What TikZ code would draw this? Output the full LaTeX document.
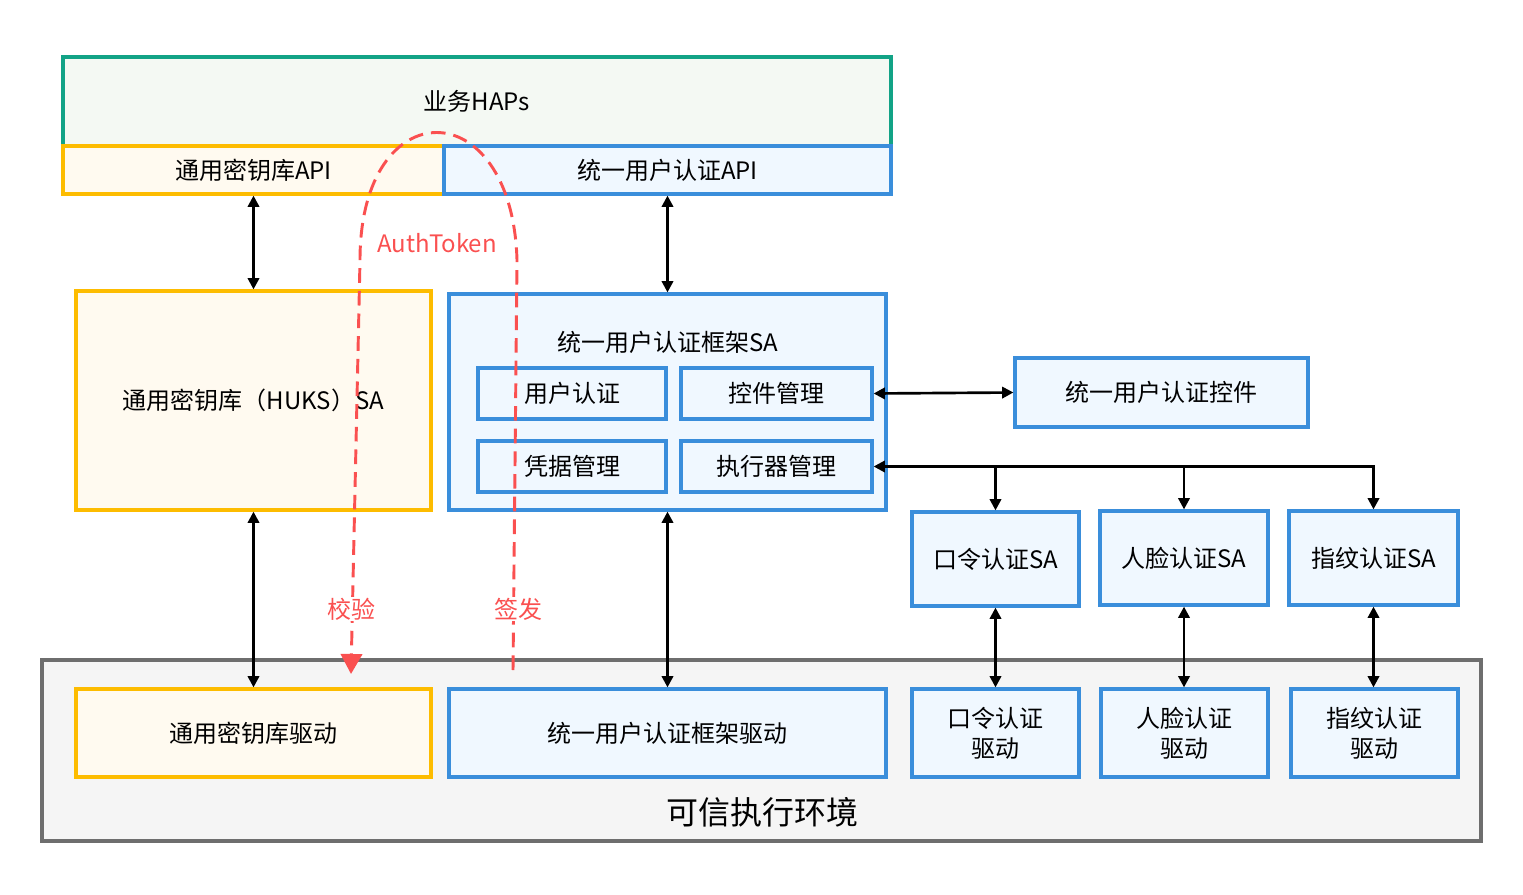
\documentclass[tikz,border=0pt]{standalone}
\usepackage{fontspec}
\setmainfont{Noto Sans CJK SC}
\usetikzlibrary{arrows.meta}
\definecolor{hapgreen}{HTML}{12A386}
\definecolor{hapfill}{HTML}{F4F9F3}
\definecolor{keyorange}{HTML}{FDBC00}
\definecolor{keyfill}{HTML}{FFFAF0}
\definecolor{authblue}{HTML}{3A8EDB}
\definecolor{authfill}{HTML}{F0F8FF}
\definecolor{teegray}{HTML}{6E6E6E}
\definecolor{teefill}{HTML}{F5F5F5}
\definecolor{tokenred}{HTML}{FA5050}
\tikzset{
	box/.style={draw, line width=2.4pt, inner sep=0pt, align=center},
	size/.style 2 args={minimum width=#1*0.75pt, minimum height=#2*0.75pt},
	hapbox/.style={box, draw=hapgreen, fill=hapfill},
	keybox/.style={box, draw=keyorange, fill=keyfill},
	authbox/.style={box, draw=authblue, fill=authfill},
	teebox/.style={box, draw=teegray, fill=teefill},
	link/.style={line width=2pt, {Triangle[length=8.5pt,width=8.5pt]}-{Triangle[length=8.5pt,width=8.5pt]}},
	tolink/.style={line width=2pt, -{Triangle[length=8.5pt,width=8.5pt]}},
	token/.style={draw=tokenred, line width=2.2pt, dash pattern=on 11pt off 6pt},
	tokentext/.style={text=tokenred, inner sep=1pt},
}

\begin{document}
\begin{tikzpicture}[x=0.75pt, y=-0.75pt, font=\fontsize{18pt}{22.5pt}\selectfont]
		%%%%% START %%%%%
		\useasboundingbox (0,0) rectangle (1523,895);
		
		\node[teebox, size={1439}{181}] (tee) at (761.5,750.5) {};
		\node[font=\fontsize{24pt}{28pt}\selectfont] (teetext) at (762,812) {可信执行环境};
		
		\node[hapbox, size={828}{89}] (haps) at (477,101.5) {业务HAPs};
		\node[keybox, size={381}{48}] (keyapi) at (253.5,170) {通用密钥库API};
		\node[authbox, size={447}{48}] (authapi) at (667.5,170) {统一用户认证API};
		
		\node[keybox, size={355}{219}] (huks) at (253.5,400.5) {通用密钥库（HUKS）SA};
		\node[authbox, size={437}{216}] (uafw) at (667.5,402) {};
		\node (uafwtitle) at (668,342) {统一用户认证框架SA};
		\node[authbox, size={188}{51}] (userauth) at (572,393.5) {用户认证};
		\node[authbox, size={191}{51}] (ctlmgr) at (776.5,393.5) {控件管理};
		\node[authbox, size={188}{51}] (credmgr) at (572,466.5) {凭据管理};
		\node[authbox, size={191}{51}] (execmgr) at (776.5,466.5) {执行器管理};
		\node[authbox, size={293}{69}] (widget) at (1161.5,392.5) {统一用户认证控件};
		
		\node[authbox, size={167}{94}] (pinsa) at (995.5,559) {口令认证SA};
		\node[authbox, size={168}{94}] (facesa) at (1184,558) {人脸认证SA};
		\node[authbox, size={169}{94}] (fpsa) at (1373.5,558) {指纹认证SA};
		
		\node[keybox, size={355}{88}] (huksdrv) at (253.5,733) {通用密钥库驱动};
		\node[authbox, size={437}{88}] (uafwdrv) at (667.5,733) {统一用户认证框架驱动};
		\node[authbox, size={167}{88}] (pindrv) at (995.5,733) {口令认证\\驱动};
		\node[authbox, size={167}{88}] (facedrv) at (1184.5,733) {人脸认证\\驱动};
		\node[authbox, size={167}{88}] (fpdrv) at (1374.5,733) {指纹认证\\驱动};
		
		\draw[link] (keyapi.south) -- (huks.north);
		\draw[link] (authapi.south) -- (uafw.north);
		\draw[link] (huks.south) -- (huksdrv.north);
		\draw[link] (uafw.south) -- (uafwdrv.north);
		\draw[link] (ctlmgr.east) -- (widget.west);
		\draw[link] (execmgr.east) -| (fpsa.north);
		\draw[tolink] (execmgr.east -| pinsa.north) -- (pinsa.north);
		\draw[tolink] (execmgr.east -| facesa.north) -- (facesa.north);
		\draw[link] (pinsa.south) -- (pinsa.south |- pindrv.north);
		\draw[link] (facesa.south) -- (facesa.south |- facedrv.north);
		\draw[link] (fpsa.south) -- (fpsa.south |- fpdrv.north);
		
		\coordinate (issue) at (513,670);
		\coordinate (verify) at (351,674);
		\draw[token, -{Triangle[length=15pt,width=16pt]}] (issue) -- (517,260) .. controls (512,90) and (360,90) .. (360,260) -- (verify);
		\node[tokentext] (tokenlbl) at (437,243) {AuthToken};
		\node[tokentext, fill=white] (verifylbl) at (351,609) {校验};
		\node[tokentext, fill=white] (issuelbl) at (518,609) {签发};
		
		%%%%% END %%%%%
	\end{tikzpicture}
\end{document}
